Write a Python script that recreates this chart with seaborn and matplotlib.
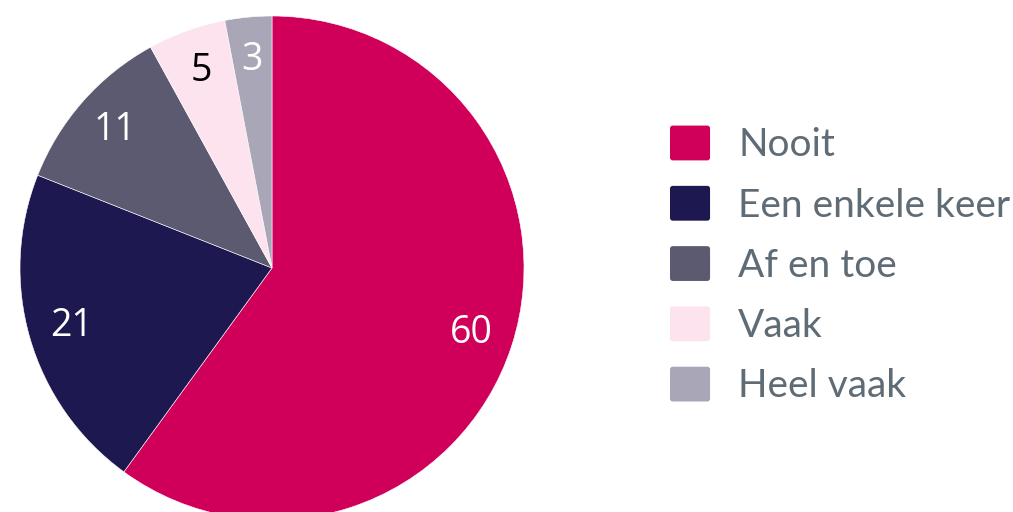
import matplotlib
matplotlib.use("Agg")
import matplotlib.pyplot as plt
import matplotlib.patches as mpatches
from matplotlib.legend_handler import HandlerPatch
import numpy as np
import seaborn as sns

# --- DATA ---
categorieen = ["Nooit", "Een enkele keer", "Af en toe", "Vaak", "Heel vaak"]
waarden = [60, 21, 11, 5, 3]
kleuren = ["#D0005A", "#1E1850", "#5C5A70", "#FDE3EE", "#A9A6B8"]
label_kleuren = ["white", "white", "white", "black", "white"]


class RoundedSquare(HandlerPatch):
    def create_artists(self, legend, orig_handle, xdescent, ydescent,
                       width, height, fontsize, trans):
        p = mpatches.FancyBboxPatch(
            (-xdescent, -ydescent), width, height,
            boxstyle=mpatches.BoxStyle("Round", pad=0, rounding_size=height * 0.08),
            facecolor=orig_handle.get_facecolor(), edgecolor="none",
            transform=trans)
        return [p]


def main():
    sns.set_theme(style="white")
    plt.rcParams["font.family"] = ["Lato", "DejaVu Sans"]

    fig = plt.figure(figsize=(10.13, 5.12), dpi=100)
    W, H = 1013, 512
    cx, cy, r = 272, 512 - 268, 252
    ax = fig.add_axes([(cx - r) / W, (cy - r) / H, 2 * r / W, 2 * r / H])

    wedges, _ = ax.pie(waarden, colors=kleuren, startangle=90, counterclock=False,
                       radius=1, wedgeprops=dict(edgecolor="white", linewidth=0.4))
    ax.set_xlim(-1, 1)
    ax.set_ylim(-1, 1)
    ax.set_aspect("equal")
    ax.axis("off")

    # labels op het midden van elke sector
    for w, v, kl in zip(wedges, waarden, label_kleuren):
        hoek = np.deg2rad((w.theta1 + w.theta2) / 2)
        ax.text(0.83 * np.cos(hoek), 0.83 * np.sin(hoek), str(v),
                ha="center", va="center", color=kl, fontsize=27,
                family=["Open Sans", "DejaVu Sans"])

    handles = [mpatches.Patch(facecolor=c) for c in kleuren]
    leg = fig.legend(handles, categorieen, loc="center left",
                     bbox_to_anchor=(670 / W, (512 - 265) / H),
                     frameon=False, fontsize=28, handlelength=1.03,
                     handleheight=1.0, handletextpad=0.72, labelspacing=0.58,
                     borderpad=0, borderaxespad=0,
                     handler_map={mpatches.Patch: RoundedSquare()})
    for t in leg.get_texts():
        t.set_color("#5F6B75")

    fig.savefig("out.png", dpi=100)


if __name__ == "__main__":
    main()
